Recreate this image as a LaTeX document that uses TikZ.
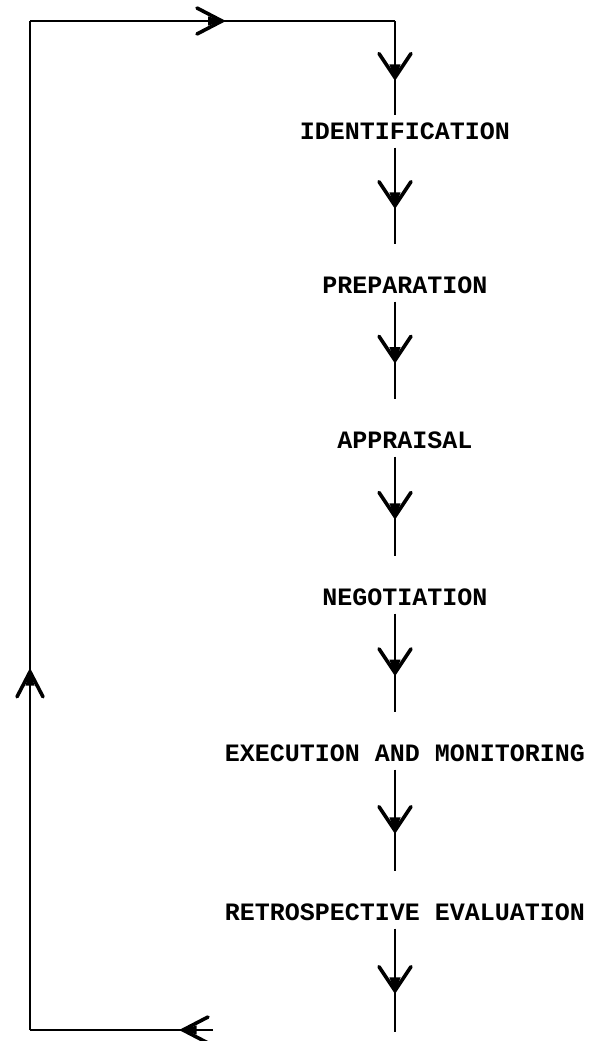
\documentclass[tikz,border=0pt]{standalone}
\usepackage{fontspec}
\newfontfamily\tw{Liberation Mono}
\usetikzlibrary{decorations.markings,calc}
\newcommand\mychev[2]{%
  \draw[line width=3.6pt,line cap=round] (-#1,#2) -- (0,0) -- (-#1,-#2);
  \fill (1.5pt,0) -- (-#1*0.55,#2*0.35) -- (-#1*0.55,-#2*0.35) -- cycle;}
\begin{document}
\begin{tikzpicture}[x=1pt,y=-1pt,
  lbl/.style={font=\tw\bfseries\fontsize{25}{25}\selectfont, inner sep=0pt},
  conn/.style={draw, line width=2.2pt},
  chev/.style={postaction={decorate}, decoration={markings, mark=at position #1 with {\mychev{24pt}{16pt}}}},
  hchev/.style={postaction={decorate}, decoration={markings, mark=at position #1 with {\mychev{25pt}{13pt}}}}]
\path[fill=white,use as bounding box] (0,0) rectangle (592,1041);
\coordinate (tl) at (30,21);
\coordinate (tr) at (395,21);
\coordinate (bl) at (30,1030);
\coordinate (bs) at (213,1030);
\coordinate (br) at (395,1032);
\node[lbl] (id) at (405,131) {IDENTIFICATION};
\node[lbl] (pr) at (405,285) {PREPARATION};
\node[lbl] (ap) at (405,440) {APPRAISAL};
\node[lbl] (ne) at (405,597) {NEGOTIATION};
\node[lbl] (ex) at (405,753) {EXECUTION  AND  MONITORING};
\node[lbl] (re) at (405,912) {RETROSPECTIVE  EVALUATION};
\draw[conn, hchev=0.526] (tl) -- (tr);
\draw[conn, chev=0.6] (tr) -- ($(id.north -| tr)+(0,-7)$);
\draw[conn, chev=0.6] ($(id.south -| tr)+(0,8)$) -- ($(pr.north -| tr)+(0,-32)$);
\draw[conn, chev=0.6] ($(pr.south -| tr)+(0,8)$) -- ($(ap.north -| tr)+(0,-32)$);
\draw[conn, chev=0.6] ($(ap.south -| tr)+(0,8)$) -- ($(ne.north -| tr)+(0,-32)$);
\draw[conn, chev=0.6] ($(ne.south -| tr)+(0,8)$) -- ($(ex.north -| tr)+(0,-32)$);
\draw[conn, chev=0.6] ($(ex.south -| tr)+(0,8)$) -- ($(re.north -| tr)+(0,-32)$);
\draw[conn, chev=0.6] ($(re.south -| tr)+(0,8)$) -- (br);
\draw[conn, hchev=0.164] (bs) -- (bl);
\draw[conn, hchev=0.355] (bl) -- (tl);
\end{tikzpicture}
\end{document}
